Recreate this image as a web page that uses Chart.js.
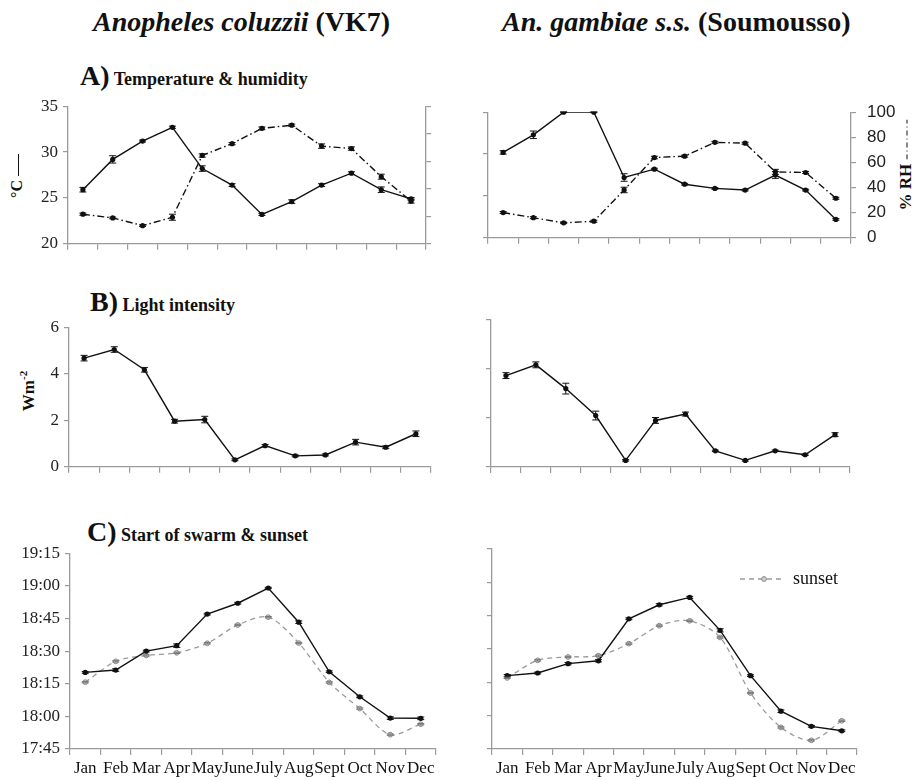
<!DOCTYPE html>
<html>
<head>
<meta charset="utf-8">
<script src="https://cdn.jsdelivr.net/npm/chart.js@4.4.1/dist/chart.umd.min.js"></script>
<style>
  body { margin: 0; width: 917px; height: 780px; background: #fff; position: relative; overflow: hidden;
         font-family: "Liberation Serif", "Times New Roman", serif; color: #111; }
  canvas { position: absolute; }
  .hd { position: absolute; white-space: nowrap; font-weight: bold; font-size: 28px; line-height: 28px; }
  .sub { position: absolute; white-space: nowrap; font-weight: bold; font-size: 18px; line-height: 28px; }
  .sub .big { font-size: 28px; }
  .ytitle { position: absolute; white-space: nowrap; font-weight: bold; transform: translate(-50%, -50%) rotate(-90deg); }
</style>
</head>
<body>
<div class="hd" style="left:93px;top:8px"><i>Anopheles coluzzii</i> (VK7)</div>
<div class="hd" style="left:502px;top:8px"><i>An. gambiae s.s.</i> (Soumousso)</div>

<div class="sub" style="left:80px;top:62px"><span class="big">A)</span> Temperature &amp; humidity</div>
<div class="sub" style="left:90px;top:288px"><span class="big">B)</span> Light intensity</div>
<div class="sub" style="left:87px;top:518px"><span class="big">C)</span> Start of swarm &amp; sunset</div>

<div class="ytitle" style="left:17px;top:176px;font-size:16px">°C <span style="display:inline-block;width:22px;border-top:1px solid #111;vertical-align:middle"></span></div>
<div class="ytitle" style="left:28px;top:391px;font-size:17px">Wm<sup style="font-size:11px">-2</sup></div>
<div class="ytitle" style="left:906px;top:165px;font-size:17px">% RH <svg width="40" height="4" style="vertical-align:middle"><line x1="0" y1="2" x2="40" y2="2" stroke="#111" stroke-width="1" stroke-dasharray="5 3 1 3"/></svg></div>

<canvas id="aLeft" width="430" height="168" style="left:8px;top:91px"></canvas>
<canvas id="aRight" width="431" height="168" style="left:476px;top:91px"></canvas>
<canvas id="bLeft" width="428" height="170" style="left:9px;top:312px"></canvas>
<canvas id="bRight" width="377" height="169" style="left:479px;top:310px"></canvas>
<canvas id="cLeft" width="432" height="242" style="left:10px;top:538px"></canvas>
<canvas id="cRight" width="383" height="241" style="left:480px;top:539px"></canvas>

<script>
const months = ['Jan', 'Feb', 'Mar', 'Apr', 'May', 'June', 'July', 'Aug', 'Sept', 'Oct', 'Nov', 'Dec'];

// A) temperature (°C) and relative humidity (%)
const tempVK7 = [25.9, 29.2, 31.2, 32.7, 28.2, 26.4, 23.2, 24.6, 26.4, 27.7, 25.9, 24.9];
const tempVK7Err = [0.25, 0.4, 0.1, 0.12, 0.3, 0.15, 0.12, 0.2, 0.15, 0.15, 0.3, 0.15];
const rhVK7 = [21.5, 18.8, 13.2, 19.3, 64.2, 72.8, 83.9, 86.2, 71.0, 69.2, 48.8, 31.0];
const rhVK7Err = [0.8, 0.6, 0.6, 2.2, 1.2, 0.8, 1.0, 0.8, 1.6, 1.2, 1.8, 1.4];
const tempSou = [30.2, 32.3, 35.0, 35.0, 27.2, 28.2, 26.4, 25.9, 25.7, 27.5, 25.7, 22.2];
const tempSouErr = [0.2, 0.45, 0.05, 0.05, 0.45, 0.1, 0.1, 0.1, 0.1, 0.4, 0.1, 0.1];
const rhSou = [20.1, 16.0, 11.9, 13.2, 38.1, 63.9, 65.0, 76.0, 75.3, 52.5, 52.0, 31.5];
const rhSouErr = [0.8, 0.8, 0.6, 0.8, 2.2, 1.0, 0.8, 0.8, 0.8, 2.0, 0.8, 0.8];

// B) light intensity (W m-2)
const lightVK7 = [4.67, 5.04, 4.17, 1.96, 2.03, 0.30, 0.91, 0.47, 0.51, 1.06, 0.84, 1.42];
const lightVK7Err = [0.12, 0.12, 0.1, 0.08, 0.14, 0.04, 0.05, 0.04, 0.04, 0.12, 0.06, 0.12];
const lightSou = [3.73, 4.17, 3.20, 2.10, 0.27, 1.90, 2.16, 0.66, 0.27, 0.66, 0.50, 1.32];
const lightSouErr = [0.12, 0.12, 0.22, 0.18, 0.03, 0.12, 0.08, 0.03, 0.03, 0.03, 0.03, 0.08];

// C) start of swarm and sunset, minutes after midnight
const swarmVK7 = [1100.2, 1101.3, 1110.0, 1112.5, 1127.0, 1132.0, 1139.0, 1123.3, 1100.5, 1089.0, 1079.2, 1079.1];
const swarmVK7Err = [0.4, 0.6, 0.4, 0.8, 0.4, 0.4, 0.3, 0.6, 0.4, 0.4, 0.6, 0.6];
const sunsetVK7 = [1095.7, 1105.3, 1108.0, 1109.2, 1113.6, 1122.0, 1125.6, 1113.7, 1095.6, 1083.6, 1071.6, 1076.4];
const sunsetVK7Err = [0.3, 0.3, 0.3, 0.3, 0.3, 0.3, 0.3, 0.3, 0.3, 0.3, 0.3, 0.3];
const swarmSou = [1098.0, 1099.2, 1103.4, 1104.7, 1123.6, 1129.9, 1133.2, 1118.4, 1098.0, 1082.0, 1075.2, 1073.2];
const swarmSouErr = [0.5, 0.4, 0.5, 0.5, 0.4, 0.5, 0.5, 0.7, 0.4, 0.6, 0.4, 0.4];
const sunsetSou = [1097.0, 1104.9, 1106.4, 1107.0, 1112.4, 1120.5, 1122.7, 1115.2, 1090.2, 1074.7, 1068.9, 1077.7];
const sunsetSouErr = [0.3, 0.3, 0.3, 0.3, 0.3, 0.3, 0.3, 0.3, 0.3, 0.3, 0.3, 0.3];

const tempTicks = { min: 20, max: 35, step: 5 };
const rhTicks = { min: 0, max: 100, step: 20 };
const lightTicks = { min: 0, max: 6, step: 2 };
const timeTicks = { min: 1065, max: 1155, step: 15 };

const INK = '#111';
const AXIS = '#9a9a9a';
const SERIF = '"Liberation Serif", "Times New Roman", serif';
const SANS = '"Liberation Sans", Arial, sans-serif';

const hhmm = v => `${Math.floor(v / 60)}:${String(v % 60).padStart(2, '0')}`;

// vertical error bars with caps, drawn through each dataset's own y scale
const errorBars = {
  id: 'errorBars',
  afterDatasetsDraw(chart) {
    const ctx = chart.ctx;
    chart.data.datasets.forEach((ds, i) => {
      if (!ds.errs) return;
      const meta = chart.getDatasetMeta(i);
      const ys = chart.scales[meta.yAxisID];
      ctx.save();
      ctx.strokeStyle = ds.errColor || ds.borderColor;
      ctx.lineWidth = 1;
      meta.data.forEach((pt, j) => {
        const e = ds.errs[j];
        if (!e) return;
        const y1 = ys.getPixelForValue(ds.data[j] - e);
        const y2 = ys.getPixelForValue(ds.data[j] + e);
        ctx.beginPath();
        ctx.moveTo(pt.x, y1); ctx.lineTo(pt.x, y2);
        ctx.moveTo(pt.x - 3.5, y1); ctx.lineTo(pt.x + 3.5, y1);
        ctx.moveTo(pt.x - 3.5, y2); ctx.lineTo(pt.x + 3.5, y2);
        ctx.stroke();
      });
      ctx.restore();
    });
  }
};

// "sunset" key inside the top-right corner of the plot
const sunsetKey = {
  id: 'sunsetKey',
  afterDraw(chart) {
    const { ctx, chartArea: a } = chart;
    const ds = chart.data.datasets[1];
    const y = a.top + 30;
    ctx.save();
    ctx.strokeStyle = ds.borderColor;
    ctx.lineWidth = ds.borderWidth;
    ctx.setLineDash(ds.borderDash);
    ctx.beginPath();
    ctx.moveTo(a.right - 117, y);
    ctx.lineTo(a.right - 72, y);
    ctx.stroke();
    ctx.setLineDash([]);
    ctx.fillStyle = ds.pointBackgroundColor;
    ctx.strokeStyle = ds.pointBorderColor;
    ctx.lineWidth = 1;
    ctx.beginPath();
    ctx.arc(a.right - 93, y, 2.4, 0, Math.PI * 2);
    ctx.fill();
    ctx.stroke();
    ctx.fillStyle = INK;
    ctx.font = `18px ${SERIF}`;
    ctx.textBaseline = 'middle';
    ctx.fillText(ds.label, a.right - 64, y);
    ctx.restore();
  }
};

function xAxis(showLabels, height) {
  return {
    type: 'category',
    offset: true,
    grid: { offset: true, drawOnChartArea: false, tickLength: 6, color: AXIS, lineWidth: 1.2 },
    border: { color: AXIS, width: 1.3 },
    ticks: {
      display: showLabels, autoSkip: false, maxRotation: 0, minRotation: 0, padding: 3,
      color: INK, font: { family: SERIF, size: 17 }
    },
    afterFit: s => { s.height = height; }
  };
}

function yAxis(range, { position = 'left', show = true, width, sans = false, fmt, pad = 5 }) {
  const ticks = {
    stepSize: range.step, display: show, padding: pad, color: '#222',
    font: { family: sans ? SANS : SERIF, size: 17 }
  };
  if (fmt) ticks.callback = fmt;
  return {
    position, min: range.min, max: range.max, ticks,
    grid: { drawOnChartArea: false, tickLength: 5, color: AXIS, lineWidth: 1.2 },
    border: { color: AXIS, width: 1.3 },
    afterFit: s => { s.width = width; }
  };
}

const solid = (data, errs, yAxisID = 'y') => ({
  data, errs, yAxisID,
  borderColor: INK, backgroundColor: INK, borderWidth: 1.4,
  pointRadius: 2.6, pointBorderWidth: 0, pointBackgroundColor: INK, tension: 0
});
const dashDot = (data, errs, yAxisID) => ({ ...solid(data, errs, yAxisID), borderDash: [7, 3, 1.5, 3] });
const sunsetLine = (data, errs) => ({
  label: 'sunset', data, errs, yAxisID: 'y',
  borderColor: '#9a9a9a', borderWidth: 1.3, borderDash: [5, 4],
  pointRadius: 2.4, pointBackgroundColor: '#d0d0d0', pointBorderColor: '#8a8a8a', pointBorderWidth: 1,
  errColor: '#777', tension: 0.3
});

function panel(id, datasets, scales, padRight, extra = []) {
  return new Chart(document.getElementById(id), {
    type: 'line',
    data: { labels: months, datasets },
    options: {
      responsive: false,
      animation: false,
      layout: { padding: { top: 10, right: padRight, left: 0, bottom: 0 } },
      plugins: { legend: { display: false }, tooltip: { enabled: false } },
      scales
    },
    plugins: [errorBars, ...extra]
  });
}

panel('aLeft',
  [solid(tempVK7, tempVK7Err, 'y'), dashDot(rhVK7, rhVK7Err, 'y2')],
  {
    x: xAxis(false, 12),
    y: yAxis(tempTicks, { width: 60 }),
    y2: yAxis(rhTicks, { position: 'right', show: false, width: 12 })
  }, 0);

panel('aRight',
  [solid(tempSou, tempSouErr, 'y'), dashDot(rhSou, rhSouErr, 'y2')],
  {
    x: xAxis(false, 12),
    y: yAxis(tempTicks, { show: false, width: 12 }),
    y2: yAxis(rhTicks, { position: 'right', width: 56, sans: true, pad: 11 })
  }, 0);

panel('bLeft',
  [solid(lightVK7, lightVK7Err)],
  { x: xAxis(false, 12), y: yAxis(lightTicks, { width: 60 }) }, 6);

panel('bRight',
  [solid(lightSou, lightSouErr)],
  { x: xAxis(false, 12), y: yAxis(lightTicks, { show: false, width: 12 }) }, 6);

panel('cLeft',
  [solid(swarmVK7, swarmVK7Err), sunsetLine(sunsetVK7, sunsetVK7Err)],
  { x: xAxis(true, 31), y: yAxis(timeTicks, { width: 60, fmt: hhmm }) }, 6);

panel('cRight',
  [solid(swarmSou, swarmSouErr), sunsetLine(sunsetSou, sunsetSouErr)],
  { x: xAxis(true, 31), y: yAxis(timeTicks, { show: false, width: 12, fmt: hhmm }) }, 6,
  [sunsetKey]);
</script>
</body>
</html>
